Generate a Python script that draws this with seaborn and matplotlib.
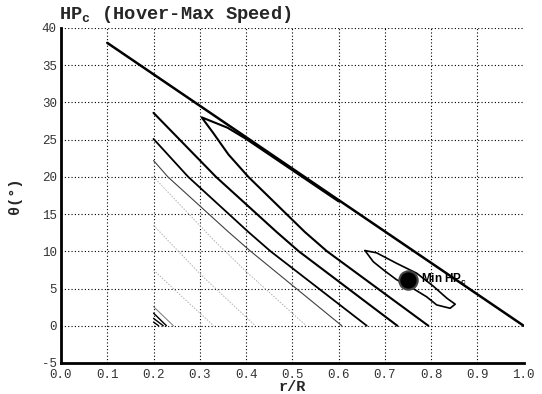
import matplotlib
matplotlib.use("Agg")
import matplotlib.pyplot as plt
import seaborn as sns
import pandas as pd
import numpy as np
from matplotlib.ticker import MultipleLocator

# ---- data ----
boundary_x = [0.1, 1.0]
boundary_y = [38.0, 0.0]

lineA_x = [0.2, 0.335, 0.466, 0.514, 0.727]
lineA_y = [28.6, 20.0, 12.6, 10.0, 0.0]

lineB_x = [0.2, 0.275, 0.405, 0.453, 0.661]
lineB_y = [25.1, 20.0, 12.6, 10.0, 0.0]

lineC_x = [0.2, 0.231, 0.362, 0.41, 0.607]
lineC_y = [22.2, 20.0, 12.6, 10.0, 0.0]

# open contour hugging the boundary (upper branch) and descending (lower branch)
lineL_x = [0.60, 0.55, 0.50, 0.45, 0.40, 0.36, 0.304, 0.329, 0.362, 0.405, 0.527, 0.575, 0.794]
lineL_y = [16.7, 18.8, 20.9, 23.0, 25.1, 26.6, 28.0, 25.9, 23.0, 20.0, 12.6, 10.0, 0.0]

# closed loop around the minimum
loop_x = [0.657, 0.682, 0.725, 0.769, 0.805, 0.834, 0.852, 0.841, 0.812, 0.790, 0.761, 0.725, 0.697, 0.675, 0.657]
loop_y = [10.1, 9.8, 8.4, 7.05, 5.3, 3.7, 2.9, 2.35, 2.8, 3.9, 5.0, 6.2, 7.5, 8.6, 10.1]

# faint low-level contours
g1_x = [0.2, 0.33, 0.40, 0.53]
g1_y = [20.0, 11.5, 7.3, 0.0]
g2_x = [0.2, 0.30, 0.42]
g2_y = [13.5, 7.0, 0.0]
g3_x = [0.2, 0.26, 0.33]
g3_y = [7.5, 4.0, 0.0]

# small corner contours
c1_x = [0.2, 0.228]
c1_y = [1.7, 0.0]
c2_x = [0.2, 0.221]
c2_y = [1.0, 0.0]
c3_x = [0.2, 0.211]
c3_y = [0.5, 0.0]
c4_x = [0.2, 0.243]
c4_y = [2.57, 0.0]

min_x = [0.751]
min_y = [6.16]

x_ticks = [0.0, 0.1, 0.2, 0.3, 0.4, 0.5, 0.6, 0.7, 0.8, 0.9, 1.0]
y_ticks = [-5, 0, 5, 10, 15, 20, 25, 30, 35, 40]

# ---- plotting ----
sns.set_style("white")
mono = ["Liberation Mono", "DejaVu Sans Mono"]

fig = plt.figure(figsize=(5.42, 3.94), dpi=100)
ax = fig.add_axes([0.1125, 0.0787, 0.8537, 0.8503])


def draw(xs, ys, color, lw, ls="-"):
    df = pd.DataFrame({"x": xs, "y": ys})
    sns.lineplot(data=df, x="x", y="y", sort=False, estimator=None,
                 color=color, linewidth=lw, linestyle=ls, ax=ax)


for gx, gy in [(g1_x, g1_y), (g2_x, g2_y), (g3_x, g3_y)]:
    draw(gx, gy, "#b0b0b0", 0.7, (0, (1.5, 1.5)))
draw(c4_x, c4_y, "#777777", 0.7)
for cx, cy in [(c1_x, c1_y), (c2_x, c2_y), (c3_x, c3_y)]:
    draw(cx, cy, "black", 1.0)
draw(lineC_x, lineC_y, "#404040", 0.8)
draw(lineB_x, lineB_y, "black", 1.3)
draw(lineA_x, lineA_y, "black", 1.5)
draw(lineL_x, lineL_y, "black", 1.5)
draw(loop_x, loop_y, "black", 1.2)
draw(boundary_x, boundary_y, "black", 1.8)

sns.scatterplot(x=min_x, y=min_y, s=175, color="black", edgecolor="#444444",
                linewidth=1.5, ax=ax, zorder=5)
ax.text(min_x[0] + 0.027, min_y[0], r"Min HP$_\mathregular{c}$", fontsize=8.5,
        fontweight="bold", va="center", ha="left", color="black",
        family=["Liberation Sans", "DejaVu Sans"])

ax.set_xlim(0.0, 1.0)
ax.set_ylim(-5, 40)
ax.set_xticks(x_ticks)
ax.set_yticks(y_ticks)
ax.set_xticklabels([f"{v:.1f}" for v in x_ticks])
ax.set_yticklabels([str(v) for v in y_ticks])
ax.xaxis.set_minor_locator(MultipleLocator(0.02))
ax.yaxis.set_minor_locator(MultipleLocator(1))

for lab in ax.get_xticklabels() + ax.get_yticklabels():
    lab.set_family(mono)
    lab.set_fontsize(9)
    lab.set_color("#333333")

ax.tick_params(axis="both", which="major", direction="in", length=6, width=1.6,
               color="black")
ax.tick_params(axis="x", which="major", pad=4)
ax.tick_params(axis="y", which="major", pad=3)
ax.tick_params(axis="both", which="minor", direction="in", length=3, width=1.0,
               color="black")

ax.grid(True, which="major", color="black", linestyle=(0, (1, 2)), linewidth=0.8)
ax.xaxis.get_gridlines()[-1].set_visible(False)
ax.xaxis.get_gridlines()[0].set_visible(False)
ax.yaxis.get_gridlines()[0].set_visible(False)

for side in ["top", "right"]:
    ax.spines[side].set_visible(False)
for side in ["left", "bottom"]:
    ax.spines[side].set_linewidth(2.0)
    ax.spines[side].set_color("black")

ax.set_xlabel("r/R", family=mono, fontweight="bold", fontsize=11, labelpad=-0.5)
ax.set_ylabel("θ(°)", family=mono, fontweight="bold", fontsize=11, labelpad=14)

fig.text(59 / 542, 1 - 19 / 394, r"HP$_\mathregular{c}$ (Hover-Max Speed)",
         family=mono, fontweight="bold", fontsize=13.5, ha="left", va="baseline")

fig.savefig("out.png", dpi=100)
